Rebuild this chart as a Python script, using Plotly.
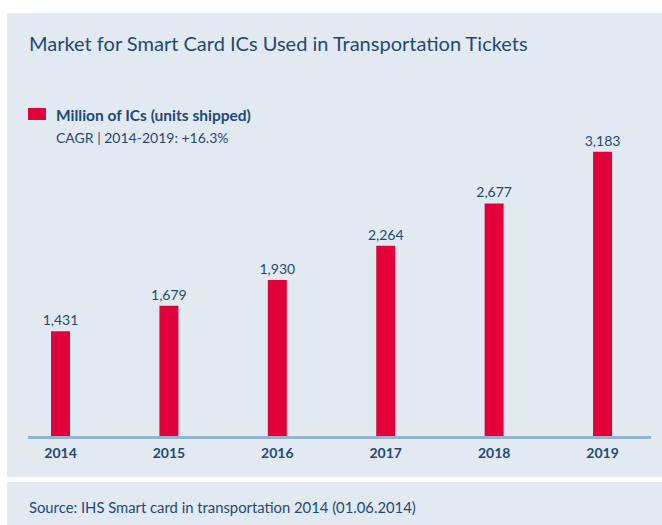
import plotly.graph_objects as go

years = ["2014", "2015", "2016", "2017", "2018", "2019"]
units = [1431, 1679, 1930, 2264, 2677, 3183]
value_labels = ["1,431", "1,679", "1,930", "2,264", "2,677", "3,183"]

title_text = "Market for Smart Card ICs Used in Transportation Tickets"
legend_text = "Million of ICs (units shipped)"
cagr_text = "CAGR | 2014-2019: +16.3%"
source_text = "Source: IHS Smart card in transportation 2014 (01.06.2014)"

W, H = 662, 525
PL, PR, PT, PB = 28, 651, 100, 436  # plot area in window pixels
L, R, T, B = PL, W - PR, PT, H - PB
PW, PH = PR - PL, PB - PT

def px(x):
    return (x - PL) / PW

def py(y):
    return (PB - y) / PH

PANEL = "#e3e9f1"
DARK = "#1b4a78"
RED = "#e2003a"
FONT = "Lato"

fig = go.Figure(go.Bar(
    x=years, y=units, width=0.175, marker_color=RED, marker_line_width=0,
    text=value_labels, textposition="outside", cliponaxis=False,
    constraintext="none",
    textfont=dict(family=FONT, size=14, color=DARK),
))

fig.update_layout(
    width=W, height=H,
    margin=dict(l=L, r=R, t=T, b=B),
    paper_bgcolor="white", plot_bgcolor="rgba(0,0,0,0)",
    showlegend=False,
    xaxis=dict(range=[-0.2998, 5.447], showgrid=False, zeroline=False,
               showline=True, linecolor="#93b3cf", linewidth=3,
               ticks="", ticklabelstandoff=2,
               tickfont=dict(family=FONT, size=14, color=DARK, weight="bold")),
    yaxis=dict(range=[408, 3687], visible=False),
    shapes=[
        dict(type="rect", xref="paper", yref="paper", layer="below",
             x0=px(7), x1=px(664), y0=py(477), y1=py(13),
             fillcolor=PANEL, line_width=0),
        dict(type="rect", xref="paper", yref="paper", layer="below",
             x0=px(7), x1=px(664), y0=py(527), y1=py(482),
             fillcolor=PANEL, line_width=0),
        dict(type="rect", xref="paper", yref="paper",
             x0=px(28), x1=px(46), y0=py(120), y1=py(108),
             fillcolor=RED, line_width=0),
    ],
    annotations=[
        dict(text=title_text, xref="paper", yref="paper", x=px(27), y=py(43),
             xanchor="left", yanchor="middle", showarrow=False,
             font=dict(family=FONT, size=20, color=DARK)),
        dict(text="<b>" + legend_text + "</b>", xref="paper", yref="paper", x=px(54), y=py(115),
             xanchor="left", yanchor="middle", showarrow=False,
             font=dict(family=FONT, size=15.5, color=DARK)),
        dict(text=cagr_text, xref="paper", yref="paper", x=px(54), y=py(137),
             xanchor="left", yanchor="middle", showarrow=False,
             font=dict(family=FONT, size=14, color=DARK)),
        dict(text=source_text, xref="paper", yref="paper", x=px(27), y=py(507),
             xanchor="left", yanchor="middle", showarrow=False,
             font=dict(family=FONT, size=14.8, color=DARK)),
    ],
)

fig.write_html("out.html", config={"displayModeBar": False},
               post_script="document.body.style.margin='0';")
